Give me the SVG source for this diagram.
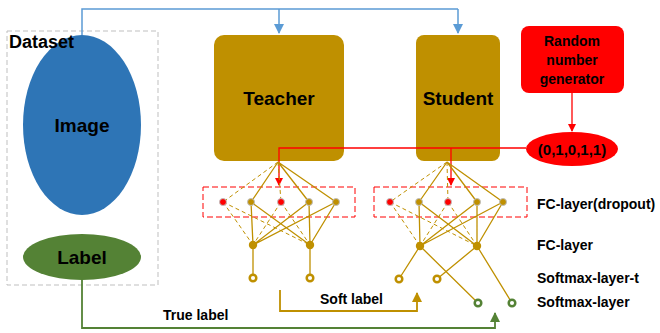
<svg xmlns="http://www.w3.org/2000/svg" width="660" height="333" viewBox="0 0 660 333">
<style>
text{font-family:"Liberation Sans",Arial,sans-serif;font-weight:bold;fill:#000}
.big{font-size:19px;text-anchor:middle}
.mid{font-size:15px}
.sm{font-size:14px}
.g{stroke:#BF9000;stroke-width:1.3;fill:none}
.gd{stroke:#BF9000;stroke-width:1;fill:none;stroke-dasharray:4 3}
.rbox{fill:none;stroke:#FF0000;stroke-width:1;stroke-dasharray:6 3}
.dn{fill:#BF9000;stroke:#BFBFBF;stroke-width:1}
.rn{fill:#FF0000;stroke:#BFBFBF;stroke-width:1}
.fc{fill:#BF9000}
.sg{fill:#fff;stroke:#BF9000;stroke-width:2.5}
.sgr{fill:#fff;stroke:#548235;stroke-width:2.5}
</style>
<defs>
<marker id="ar" markerWidth="8" markerHeight="8" refX="7" refY="4" orient="auto" markerUnits="userSpaceOnUse"><path d="M0,0 L8,4 L0,8 Z" fill="#FF0000"/></marker>
<marker id="abl" markerWidth="10" markerHeight="10" refX="9" refY="5" orient="auto" markerUnits="userSpaceOnUse"><path d="M0,0 L10,5 L0,10 Z" fill="#5B9BD5"/></marker>
<marker id="ag" markerWidth="10" markerHeight="10" refX="9" refY="5" orient="auto" markerUnits="userSpaceOnUse"><path d="M0,0 L10,5 L0,10 Z" fill="#BF9000"/></marker>
<marker id="agr" markerWidth="10" markerHeight="10" refX="9" refY="5" orient="auto" markerUnits="userSpaceOnUse"><path d="M0,0 L10,5 L0,10 Z" fill="#548235"/></marker>
</defs>

<g id="image">
<ellipse cx="82" cy="125" rx="59" ry="90" fill="#2E75B6"/>
<text x="82" y="132" class="big">Image</text>
</g>
<g id="label">
<ellipse cx="82" cy="257" rx="59" ry="23" fill="#548235"/>
<text x="82" y="264" class="big">Label</text>
</g>
<g id="dataset">
<rect x="7" y="31" width="151" height="254" fill="none" stroke="#BFBFBF" stroke-width="1" stroke-dasharray="5 3"/>
<text x="9" y="48" style="font-size:18px">Dataset</text>
</g>
<g id="teacher">
<rect x="214" y="35" width="130" height="126" rx="10" fill="#BF9000"/>
<text x="279" y="105" class="big">Teacher</text>
</g>
<g id="student">
<rect x="416" y="35" width="84" height="126" rx="8" fill="#BF9000"/>
<text x="458" y="105" class="big">Student</text>
</g>
<g id="rng">
<rect x="521" y="26" width="103" height="67" rx="8" fill="#FF0000"/>
<text x="572" y="46" class="sm" text-anchor="middle">Random</text>
<text x="572" y="65" class="sm" text-anchor="middle">number</text>
<text x="572" y="84" class="sm" text-anchor="middle">generator</text>
</g>
<g id="mask">
<ellipse cx="572" cy="149" rx="46" ry="17" fill="#FF0000"/>
<text x="572" y="154.5" class="mid" text-anchor="middle">(0,1,0,1,1)</text>
</g>

<g id="connectors">
<path d="M82,35 V9 H458" fill="none" stroke="#5B9BD5" stroke-width="1.5"/>
<path d="M279,9 V33" fill="none" stroke="#5B9BD5" stroke-width="1.5" marker-end="url(#abl)"/>
<path d="M458,9 V33" fill="none" stroke="#5B9BD5" stroke-width="1.5" marker-end="url(#abl)"/>
<path d="M572,93 V131" fill="none" stroke="#FF0000" stroke-width="1.3" marker-end="url(#ar)"/>
<path d="M526,148 H279 V185" fill="none" stroke="#FF0000" stroke-width="1.3" marker-end="url(#ar)"/>
<path d="M451,148 V185" fill="none" stroke="#FF0000" stroke-width="1.3" marker-end="url(#ar)"/>
<path d="M280,290 V311 H417 V293" fill="none" stroke="#BF9000" stroke-width="1.8" marker-end="url(#ag)"/>
<path d="M82,280 V328 H495 V313" fill="none" stroke="#548235" stroke-width="1.8" marker-end="url(#agr)"/>
</g>

<g id="teacher-net">
<rect x="203" y="187" width="152" height="30" class="rbox"/>
<path class="gd" d="M278,162 L223,202 M278,162 L281,202"/>
<path class="g" d="M278,162 L251,202 M278,162 L309,202 M278,162 L336,202"/>
<path class="gd" d="M223,202 L253,245 M223,202 L310,245 M281,202 L253,245 M281,202 L310,245"/>
<path class="g" d="M251,202 L253,245 M251,202 L310,245 M309,202 L253,245 M309,202 L310,245 M336,202 L253,245 M336,202 L310,245"/>
<path class="g" d="M253,245 V278 M310,245 V278"/>
<circle cx="223" cy="202" r="3.5" class="rn"/>
<circle cx="251" cy="202" r="3.5" class="dn"/>
<circle cx="281" cy="202" r="3.5" class="rn"/>
<circle cx="309" cy="202" r="3.5" class="dn"/>
<circle cx="336" cy="202" r="3.5" class="dn"/>
<circle cx="253" cy="245" r="4.2" class="fc"/>
<circle cx="310" cy="245" r="4.2" class="fc"/>
<circle cx="253" cy="278" r="3.3" class="sg"/>
<circle cx="310" cy="278" r="3.3" class="sg"/>
</g>

<g id="student-net">
<rect x="374" y="187" width="153" height="30" class="rbox"/>
<path class="gd" d="M447,162 L390,202 M447,162 L448,202"/>
<path class="g" d="M447,162 L419,202 M447,162 L477,202 M447,162 L503,202"/>
<path class="gd" d="M390,202 L420,246 M390,202 L477,246 M448,202 L420,246 M448,202 L477,246"/>
<path class="g" d="M419,202 L420,246 M419,202 L477,246 M477,202 L420,246 M477,202 L477,246 M503,202 L420,246 M503,202 L477,246"/>
<path class="g" d="M420,246 L399,279 M420,246 L478,303 M477,246 L437,279 M477,246 L512,303"/>
<circle cx="390" cy="202" r="3.5" class="rn"/>
<circle cx="419" cy="202" r="3.5" class="dn"/>
<circle cx="448" cy="202" r="3.5" class="rn"/>
<circle cx="477" cy="202" r="3.5" class="dn"/>
<circle cx="503" cy="202" r="3.5" class="dn"/>
<circle cx="420" cy="246" r="4.2" class="fc"/>
<circle cx="477" cy="246" r="4.2" class="fc"/>
<circle cx="399" cy="279" r="3.3" class="sg"/>
<circle cx="437" cy="279" r="3.3" class="sg"/>
<circle cx="478" cy="303" r="3.3" class="sgr"/>
<circle cx="512" cy="303" r="3.3" class="sgr"/>
</g>

<g id="labels">
<text x="537" y="209" class="sm">FC-layer(dropout)</text>
<text x="537" y="250" class="sm">FC-layer</text>
<text x="537" y="283" class="sm">Softmax-layer-t</text>
<text x="537" y="307" class="sm">Softmax-layer</text>
<text x="320" y="304" class="sm">Soft label</text>
<text x="163" y="320" class="sm">True label</text>
</g>
</svg>
